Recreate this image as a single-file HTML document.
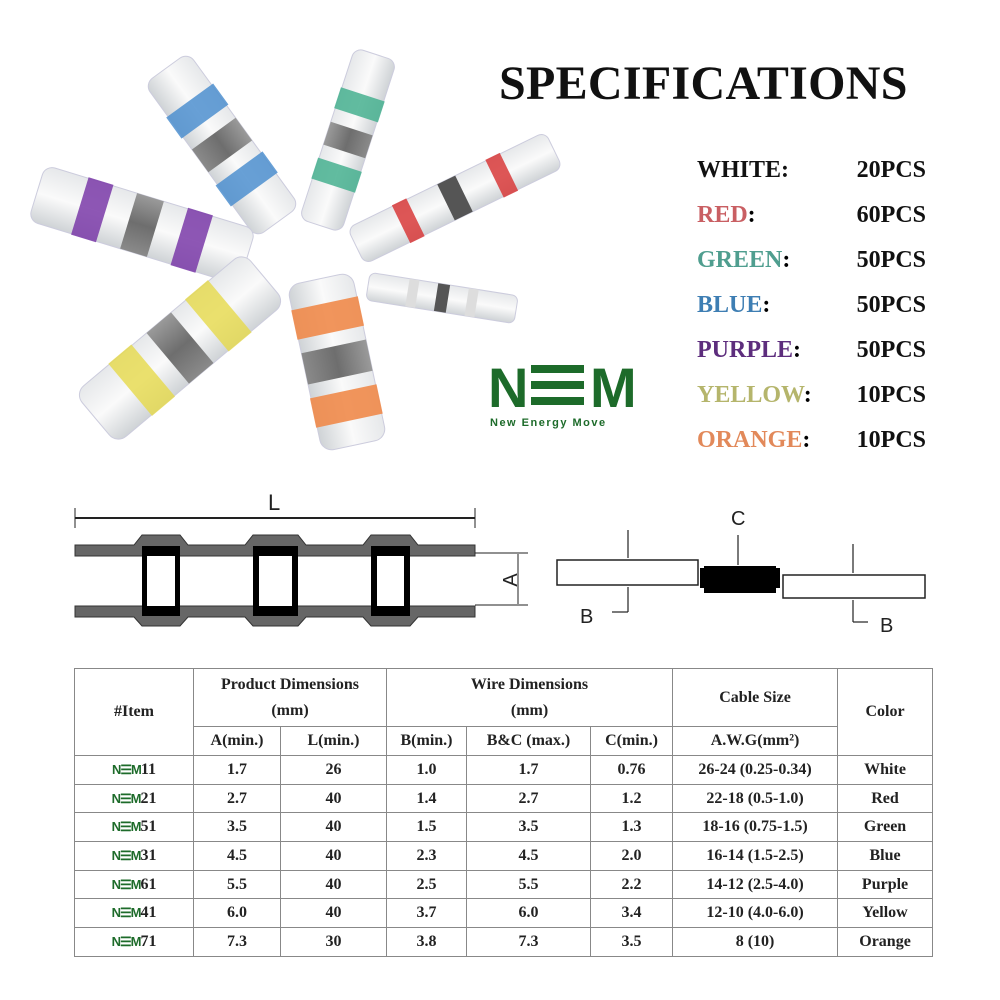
<!DOCTYPE html>
<html><head><meta charset="utf-8"><style>
body{margin:0;background:#fff;width:1000px;height:1000px;overflow:hidden;position:relative;font-family:"Liberation Serif",serif}
.t{position:absolute;font-weight:bold;}
table{position:absolute;left:74px;top:668px;width:858px;height:288px;border-collapse:collapse;table-layout:fixed;font-family:"Liberation Serif",serif;font-weight:bold;font-size:16px;color:#222}
td{border:1.5px solid #888;text-align:center;padding:0;white-space:nowrap;line-height:18px;overflow:hidden}
tr.d{height:28.7px}
.n{color:#1d6b2a;font-family:"Liberation Sans",sans-serif;font-size:13px;letter-spacing:-1px}
</style></head><body>
<svg width="1000" height="1000" style="position:absolute;left:0;top:0">
<defs>
<linearGradient id="g" x1="0" y1="0" x2="0" y2="1"><stop offset="0" stop-color="#e6e8ea"/><stop offset=".5" stop-color="#fafafa"/><stop offset="1" stop-color="#cfd3d6"/></linearGradient>
<linearGradient id="m" x1="0" y1="0" x2="0" y2="1"><stop offset="0" stop-color="#9a9a9a"/><stop offset=".5" stop-color="#6e6e6e"/><stop offset="1" stop-color="#8a8a8a"/></linearGradient>
</defs>
<g transform="translate(222,145) rotate(54)"><rect x="-95" y="-27" width="190" height="54" rx="10" fill="url(#g)" stroke="#ccd" /><rect x="-55" y="-29" width="26" height="58" fill="#4d8fcf" opacity=".85"/><rect x="-14" y="-27" width="28" height="54" fill="url(#m)"/><rect x="29" y="-29" width="26" height="58" fill="#4d8fcf" opacity=".85"/></g>
<g transform="translate(348,140) rotate(-72)"><rect x="-90" y="-22" width="180" height="44" rx="9" fill="url(#g)" stroke="#ccd"/><rect x="-48" y="-23" width="22" height="46" fill="#46b08f" opacity=".85"/><rect x="-12" y="-22" width="24" height="44" fill="url(#m)"/><rect x="26" y="-23" width="22" height="46" fill="#46b08f" opacity=".85"/></g>
<g transform="translate(142,225) rotate(17)"><rect x="-110" y="-29" width="220" height="58" rx="10" fill="url(#g)" stroke="#ccd"/><rect x="-65" y="-30" width="26" height="60" fill="#7a3aa8" opacity=".85"/><rect x="-14" y="-29" width="28" height="58" fill="url(#m)"/><rect x="39" y="-30" width="26" height="60" fill="#7a3aa8" opacity=".85"/></g>
<g transform="translate(455,198) rotate(-26)"><rect x="-110" y="-20" width="220" height="40" rx="8" fill="url(#g)" stroke="#ccd"/><rect x="-60" y="-21" width="16" height="42" fill="#d83a3a" opacity=".85"/><rect x="-10" y="-20" width="20" height="40" fill="#555"/><rect x="44" y="-21" width="16" height="42" fill="#d83a3a" opacity=".85"/></g>
<g transform="translate(442,298) rotate(9)"><rect x="-75" y="-14" width="150" height="28" rx="6" fill="url(#g)" stroke="#ccd"/><rect x="-35" y="-14" width="10" height="28" fill="#ddd"/><rect x="-6" y="-14" width="12" height="28" fill="#555"/><rect x="25" y="-14" width="10" height="28" fill="#ddd"/></g>
<g transform="translate(180,348) rotate(-40)"><rect x="-110" y="-33" width="220" height="66" rx="12" fill="url(#g)" stroke="#ccd"/><rect x="-65" y="-34" width="30" height="68" fill="#e6d94a" opacity=".8"/><rect x="-16" y="-33" width="32" height="66" fill="url(#m)"/><rect x="35" y="-34" width="30" height="68" fill="#e6d94a" opacity=".8"/></g>
<g transform="translate(337,362) rotate(78)"><rect x="-85" y="-33" width="170" height="66" rx="12" fill="url(#g)" stroke="#ccd"/><rect x="-60" y="-34" width="30" height="68" fill="#f08a4a" opacity=".9"/><rect x="-16" y="-33" width="32" height="66" fill="url(#m)"/><rect x="30" y="-34" width="30" height="68" fill="#f08a4a" opacity=".9"/></g>
<text x="488" y="407" font-family="Liberation Sans,sans-serif" font-size="56" font-weight="bold" fill="#1d6b2a">N</text>
<rect x="531" y="365" width="53" height="8" fill="#1d6b2a"/><rect x="531" y="381" width="53" height="8" fill="#1d6b2a"/><rect x="531" y="397" width="53" height="8" fill="#1d6b2a"/>
<text x="590" y="407" font-family="Liberation Sans,sans-serif" font-size="56" font-weight="bold" fill="#1d6b2a">M</text>
<text x="490" y="426" font-family="Liberation Sans,sans-serif" font-size="11" font-weight="bold" fill="#1d6b2a" letter-spacing="1.5">New Energy Move</text>
<line x1="75" y1="518" x2="475" y2="518" stroke="#222" stroke-width="2"/>
<line x1="75" y1="508" x2="75" y2="528" stroke="#222"/><line x1="475" y1="508" x2="475" y2="528" stroke="#222"/>
<text x="268" y="510" font-family="Liberation Sans,sans-serif" font-size="22" fill="#222">L</text>
<g fill="#666" stroke="#333" stroke-width="1">
<path d="M75,545 H134 L142,535 H180 L188,545 H245 L253,535 H298 L306,545 H363 L371,535 H410 L418,545 H475 V556 H75Z"/>
<path d="M75,606 H475 V617 H418 L410,626 H371 L363,617 H306 L298,626 H253 L245,617 H188 L180,626 H142 L134,617 H75Z"/>
</g>
<g fill="#000"><rect x="142" y="546" width="38" height="70"/><rect x="253" y="546" width="45" height="70"/><rect x="371" y="546" width="39" height="70"/></g>
<g fill="#fff"><rect x="147" y="556" width="28" height="50"/><rect x="259" y="556" width="33" height="50"/><rect x="377" y="556" width="27" height="50"/></g>
<line x1="475" y1="553" x2="528" y2="553" stroke="#222"/><line x1="475" y1="605" x2="528" y2="605" stroke="#222"/><line x1="518" y1="554" x2="518" y2="604" stroke="#222"/>
<text x="510" y="580" transform="rotate(-90 510 580)" font-family="Liberation Sans,sans-serif" font-size="20" fill="#222" text-anchor="middle" dy="7">A</text>
<rect x="704" y="566" width="72" height="27" fill="#000"/><rect x="700" y="568" width="80" height="20" fill="#000"/>
<rect x="557" y="560" width="141" height="25" fill="#fff" stroke="#222" stroke-width="1.5"/>
<rect x="783" y="575" width="142" height="23" fill="#fff" stroke="#222" stroke-width="1.5"/>
<g stroke="#222" stroke-width="1.2"><line x1="628" y1="530" x2="628" y2="558"/><line x1="628" y1="587" x2="628" y2="612"/><line x1="612" y1="612" x2="628" y2="612"/>
<line x1="738" y1="535" x2="738" y2="565"/><line x1="853" y1="544" x2="853" y2="573"/><line x1="853" y1="600" x2="853" y2="622"/><line x1="853" y1="622" x2="868" y2="622"/></g>
<text x="731" y="525" font-family="Liberation Sans,sans-serif" font-size="20" fill="#222">C</text>
<text x="580" y="623" font-family="Liberation Sans,sans-serif" font-size="20" fill="#222">B</text>
<text x="880" y="632" font-family="Liberation Sans,sans-serif" font-size="20" fill="#222">B</text>
</svg>
<div class="t" style="left:499px;top:56px;font-size:48px;color:#111;letter-spacing:0.3px">SPECIFICATIONS</div>
<div style="position:absolute;left:697px;top:148px;font-weight:bold;font-size:24px;line-height:45px;font-family:'Liberation Serif',serif">
<div><span style="color:#111">WHITE:</span></div>
<div><span style="color:#c95f63">RED</span>:</div>
<div><span style="color:#4f9e8f">GREEN</span>:</div>
<div><span style="color:#3e7eb3">BLUE</span>:</div>
<div><span style="color:#5d2d7d">PURPLE</span>:</div>
<div><span style="color:#b5b56c">YELLOW</span>:</div>
<div><span style="color:#e2895a">ORANGE</span>:</div>
</div>
<div style="position:absolute;left:818px;top:148px;font-weight:bold;font-size:24px;line-height:45px;color:#111;text-align:right;width:108px">
<div>20PCS</div><div>60PCS</div><div>50PCS</div><div>50PCS</div><div>50PCS</div><div>10PCS</div><div>10PCS</div></div>
<table>
<colgroup><col style="width:119px"><col style="width:87px"><col style="width:106px"><col style="width:80px"><col style="width:124px"><col style="width:82px"><col style="width:165px"><col style="width:95px"></colgroup>
<tr style="height:58px"><td rowspan="2">#Item</td><td colspan="2" style="line-height:26px">Product Dimensions<br>(mm)</td><td colspan="3" style="line-height:26px">Wire Dimensions<br>(mm)</td><td>Cable Size</td><td rowspan="2">Color</td></tr>
<tr style="height:29px"><td>A(min.)</td><td>L(min.)</td><td>B(min.)</td><td>B&amp;C (max.)</td><td>C(min.)</td><td>A.W.G(mm²)</td></tr>
<tr class="d"><td><span class="n">N☰M</span>11</td><td>1.7</td><td>26</td><td>1.0</td><td>1.7</td><td>0.76</td><td>26-24 (0.25-0.34)</td><td>White</td></tr>
<tr class="d"><td><span class="n">N☰M</span>21</td><td>2.7</td><td>40</td><td>1.4</td><td>2.7</td><td>1.2</td><td>22-18 (0.5-1.0)</td><td>Red</td></tr>
<tr class="d"><td><span class="n">N☰M</span>51</td><td>3.5</td><td>40</td><td>1.5</td><td>3.5</td><td>1.3</td><td>18-16 (0.75-1.5)</td><td>Green</td></tr>
<tr class="d"><td><span class="n">N☰M</span>31</td><td>4.5</td><td>40</td><td>2.3</td><td>4.5</td><td>2.0</td><td>16-14 (1.5-2.5)</td><td>Blue</td></tr>
<tr class="d"><td><span class="n">N☰M</span>61</td><td>5.5</td><td>40</td><td>2.5</td><td>5.5</td><td>2.2</td><td>14-12 (2.5-4.0)</td><td>Purple</td></tr>
<tr class="d"><td><span class="n">N☰M</span>41</td><td>6.0</td><td>40</td><td>3.7</td><td>6.0</td><td>3.4</td><td>12-10 (4.0-6.0)</td><td>Yellow</td></tr>
<tr class="d"><td><span class="n">N☰M</span>71</td><td>7.3</td><td>30</td><td>3.8</td><td>7.3</td><td>3.5</td><td>8 (10)</td><td>Orange</td></tr>
</table>
</body></html>
